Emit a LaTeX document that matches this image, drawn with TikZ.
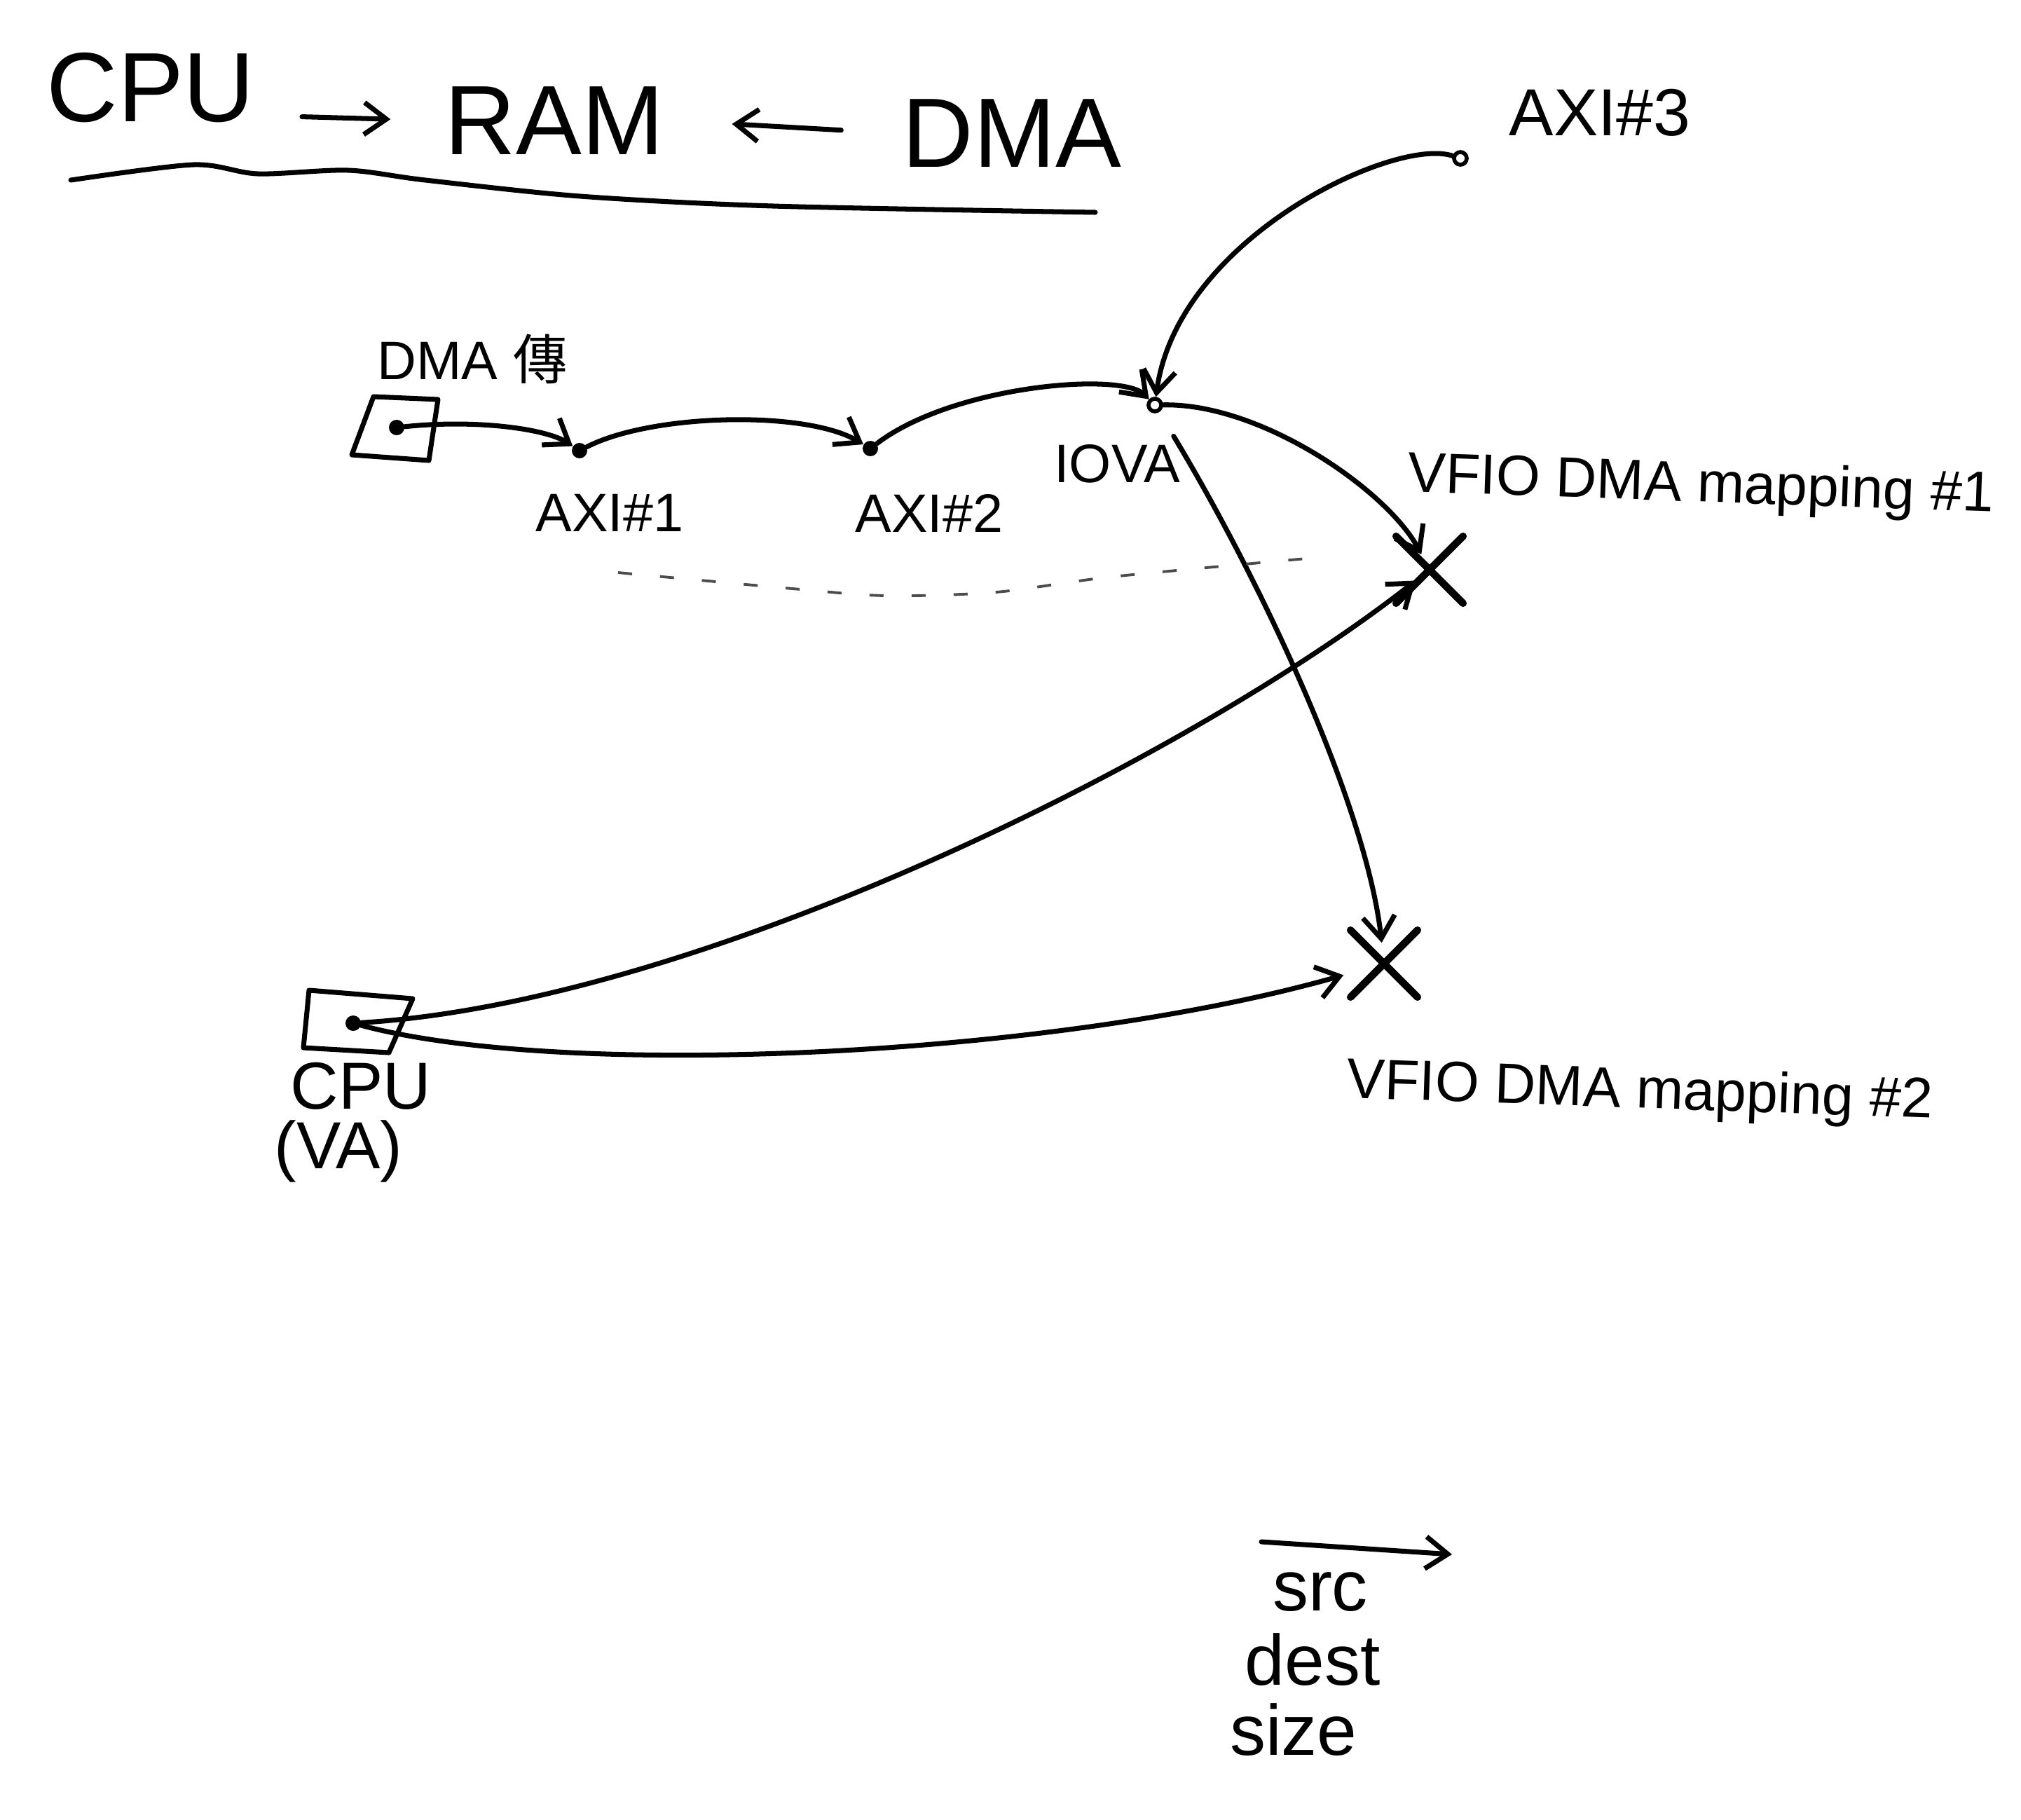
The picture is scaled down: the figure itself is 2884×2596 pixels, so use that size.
\documentclass[tikz,border=0pt]{standalone}
\usepackage{fontspec}
\setmainfont{Liberation Sans}
\newfontfamily\cjk{Noto Sans CJK TC}
\usetikzlibrary{arrows.meta,shapes.misc}
\tikzset{
  pen/.style={line width=2pt, line cap=round, line join=round},
  arr/.style={pen, -{Straight Barb[length=9pt,width=13pt]}},
  dot/.style={circle, fill, inner sep=0pt, minimum size=0.22cm},
  hole/.style={circle, draw, line width=1.6pt, inner sep=0pt, minimum size=0.18cm},
  hit/.style={cross out, draw, line width=3pt, line cap=round, minimum size=0.85cm},
  headline/.style={font=\fontsize{40}{48}\selectfont},
  tag/.style={font=\fontsize{22}{26}\selectfont},
  bigtag/.style={font=\fontsize{27}{32}\selectfont},
  note/.style={font=\fontsize{29}{35}\selectfont},
}
\begin{document}
\begin{tikzpicture}[x=0.01cm,y=-0.01cm]
\useasboundingbox (0,0) rectangle (2884,2596);

% heading
\node[headline] (tcpu) at (215,125) {CPU};
\node[headline] (tram) at (791,172) {RAM};
\node[headline] (tdma) at (1444,190) {DMA};
\draw[arr, shorten <=0.55cm, shorten >=0.65cm] ([yshift=-0.4cm]tcpu.east) -- (tram.west);
\draw[arr, shorten <=0.75cm, shorten >=0.85cm] (tdma.west) -- (tram.east);
\draw[pen] plot[smooth] coordinates {(101,257) (276,235) (368,248) (497,243) (607,257) (828,280) (1103,294) (1563,303)};

% DMA side
\draw[pen] (533,566) -- (625,570) -- (612,657) -- (502,649) -- cycle;
\node[dot] (dma) at (566,610) {};
\node[tag] (dmalbl) at (674,512) {DMA {\cjk 傳}};
\node[dot] (axi1) at (827,643) {};
\node[tag] (axi1lbl) at (870,732) {AXI\#1};
\node[dot] (axi2) at (1242,640) {};
\node[tag] (axi2lbl) at (1326,732) {AXI\#2};
\node[hole] (iova) at (1648,578) {};
\node[tag] (iovalbl) at (1594,662) {IOVA};
\node[hole] (axi3) at (2084,226) {};
\node[bigtag] (axi3lbl) at (2283,161) {AXI\#3};

% mappings
\node[hit] (map1) at (2040,813) {};
\node[tag, font=\fontsize{23}{28}\selectfont, rotate=-2] (map1lbl) at (2427,695) {VFIO DMA mapping \#1};
\node[hit] (map2) at (1975,1375) {};
\node[tag, font=\fontsize{23}{28}\selectfont, rotate=-2] (map2lbl) at (2340,1560) {VFIO DMA mapping \#2};

% CPU side
\draw[pen] (441,1413) -- (589,1425) -- (555,1502) -- (433,1495) -- cycle;
\node[dot] (cpu) at (504,1460) {};
\node[bigtag] (cpulbl) at (515,1550) {CPU};
\node[bigtag] (valbl) at (483,1643) {(VA)};

% chain
\draw[arr] (dma) .. controls (680,598) and (780,612) .. (axi1);
\draw[arr] (axi1) .. controls (930,590) and (1150,585) .. (axi2);
\draw[arr] (axi2) .. controls (1360,550) and (1600,530) .. (iova);
\draw[arr] (axi3) .. controls (1990,195) and (1680,340) .. (iova);
\draw[arr, shorten >=0.25cm] (iova) .. controls (1800,575) and (1980,700) .. (map1.center);
\draw[arr, shorten <=0.4cm, shorten >=0.3cm] (iova) .. controls (1800,830) and (1950,1150) .. (map2.center);
\draw[arr, shorten >=0.25cm] (cpu) .. controls (1000,1430) and (1700,1080) .. (map1.center);
\draw[arr, shorten >=0.6cm] (cpu) .. controls (800,1540) and (1500,1510) .. (map2.center);

% faint dashed line
\draw[line width=1.1pt, black!70, dash pattern=on 0.2cm off 0.4cm] plot[smooth] coordinates {(882,817) (1131,840) (1264,850) (1421,845) (1587,823) (1886,795)};

% src dest size
\coordinate (s0) at (1800,2200);
\coordinate (s1) at (2072,2218);
\draw[arr] (s0) -- (s1);
\node[note] (srclbl) at (1884,2272) {src};
\node[note] (destlbl) at (1873,2368) {dest};
\node[note] (sizelbl) at (1846,2468) {size};
\end{tikzpicture}
\end{document}
